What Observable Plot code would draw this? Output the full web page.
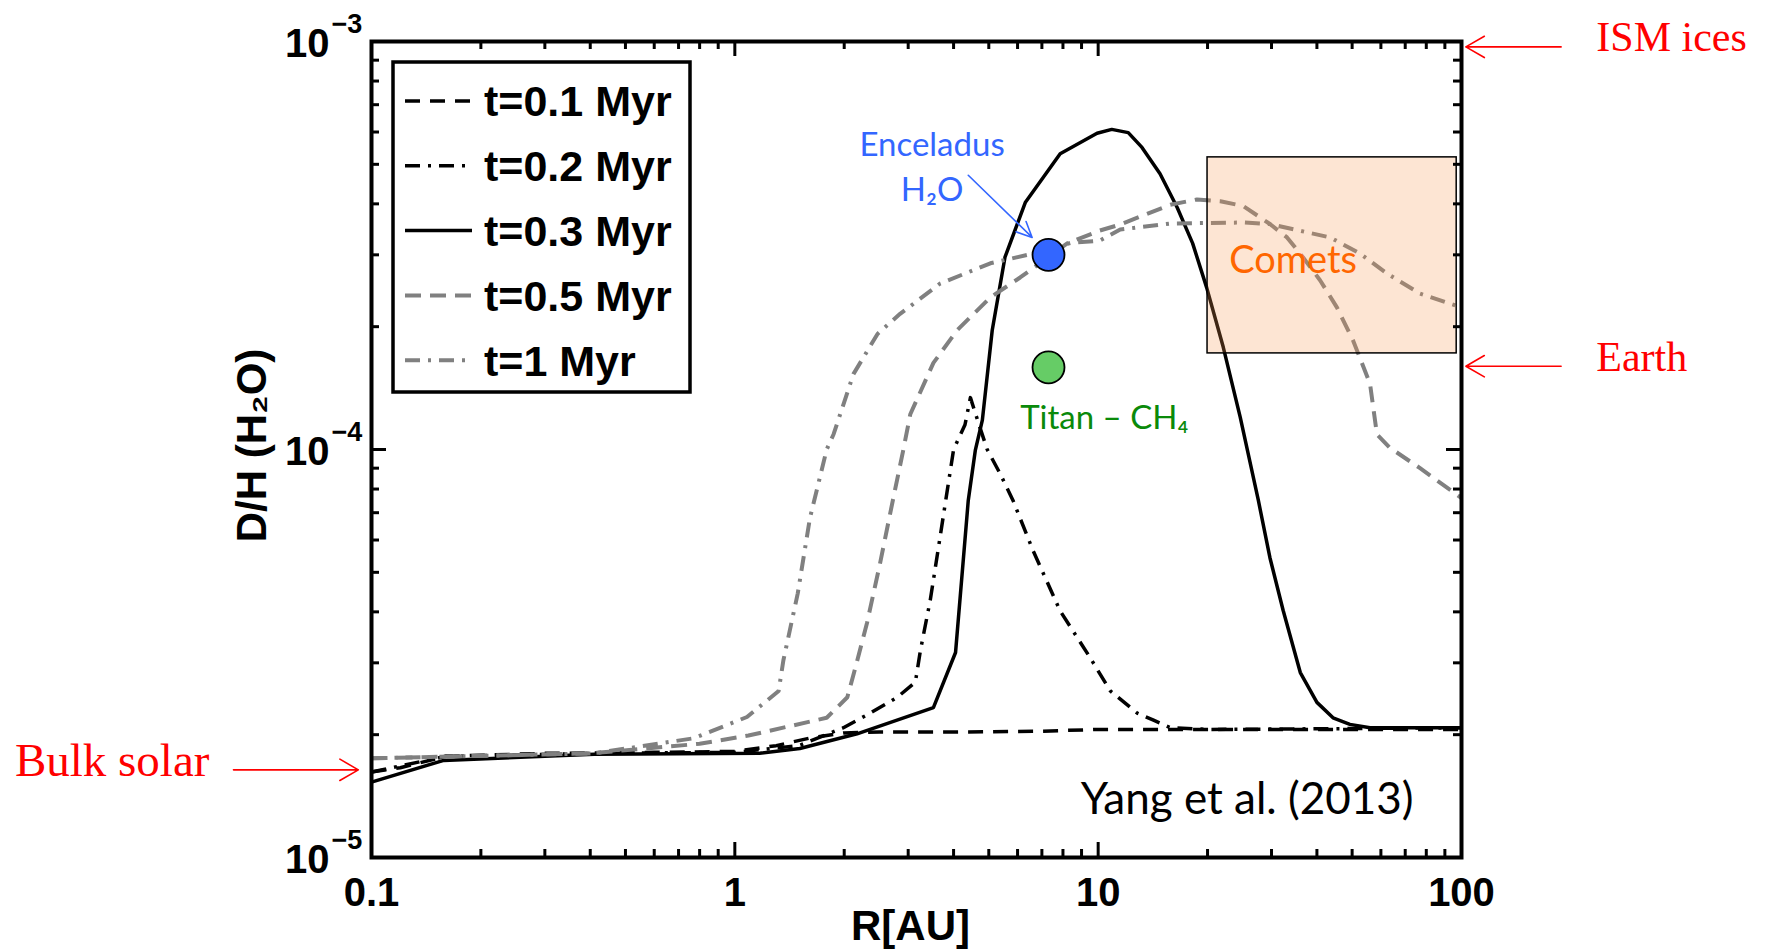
<!DOCTYPE html>
<html><head><meta charset="utf-8">
<script src="https://cdn.jsdelivr.net/npm/d3@7"></script>
<script src="https://cdn.jsdelivr.net/npm/@observablehq/plot@0.6"></script>
<style>
body{margin:0;background:#fff}
#chart{position:relative;width:1765px;height:950px}
</style>
</head><body><div id="chart"></div>
<script>
// ---- data ----
const r_t01 = [0.1, 0.12, 0.16, 0.3, 0.6, 1.0, 1.3, 1.6, 2.0, 2.5, 4, 7, 10, 20, 50, 100];
const dh_t01 = [1.62e-5, 1.66e-5, 1.77e-5, 1.80e-5, 1.81e-5, 1.82e-5, 1.88e-5, 1.96e-5, 2.02e-5, 2.03e-5, 2.03e-5, 2.04e-5, 2.06e-5, 2.06e-5, 2.06e-5, 2.06e-5];

const r_t02 = [0.1, 0.16, 0.4, 1.0, 1.5, 1.99, 2.36, 2.8, 3.14, 3.24, 3.45, 3.67, 3.87, 4.0, 4.3, 4.45, 4.7, 4.95, 5.37, 5.83, 6.62, 7.86, 9.5, 10.8, 12.8, 14.2, 15.8, 20, 50, 100];
const dh_t02 = [1.62e-5, 1.77e-5, 1.80e-5, 1.81e-5, 1.88e-5, 2.08e-5, 2.26e-5, 2.47e-5, 2.69e-5, 3.21e-5, 4.27e-5, 6.08e-5, 8.26e-5, 1.0e-4, 1.15e-4, 1.34e-4, 1.15e-4, 1.0e-4, 8.73e-5, 7.5e-5, 5.65e-5, 4.02e-5, 3.09e-5, 2.56e-5, 2.26e-5, 2.17e-5, 2.08e-5, 2.06e-5, 2.07e-5, 2.08e-5];

const r_t03 = [0.1, 0.158, 0.41, 1.17, 1.51, 2.17, 3.52, 4.05, 4.39, 4.59, 4.80, 5.11, 5.54, 6.30, 7.86, 9.93, 10.9, 12.1, 13.2, 14.8, 16.5, 18.2, 19.9, 22.1, 24.6, 27.6, 29.7, 32.3, 36.0, 40.0, 44.3, 49.3, 56.0, 100];
const dh_t03 = [1.53e-5, 1.73e-5, 1.79e-5, 1.80e-5, 1.85e-5, 2.01e-5, 2.33e-5, 3.18e-5, 7.5e-5, 9.95e-5, 1.18e-4, 1.96e-4, 2.96e-4, 4.03e-4, 5.31e-4, 5.96e-4, 6.09e-4, 5.98e-4, 5.50e-4, 4.74e-4, 3.92e-4, 3.20e-4, 2.49e-4, 1.78e-4, 1.20e-4, 7.5e-5, 5.43e-5, 4.03e-5, 2.84e-5, 2.40e-5, 2.20e-5, 2.12e-5, 2.08e-5, 2.08e-5];

const r_t05 = [0.1, 0.4, 0.8, 1.09, 1.79, 2.04, 2.16, 2.31, 2.51, 2.73, 2.91, 3.04, 3.52, 4.09, 5.05, 6.10, 8.22, 10.1, 11.5, 15.8, 18.7, 21.7, 25.1, 29.7, 33.1, 36.6, 40.8, 45.4, 50.3, 56.0, 58.5, 63.5, 76.9, 100];
const dh_t05 = [1.75e-5, 1.80e-5, 1.90e-5, 1.99e-5, 2.20e-5, 2.47e-5, 2.98e-5, 3.75e-5, 5.26e-5, 7.6e-5, 1.0e-4, 1.22e-4, 1.63e-4, 1.96e-4, 2.36e-4, 2.64e-4, 3.20e-4, 3.44e-4, 3.56e-4, 3.98e-4, 4.10e-4, 4.06e-4, 3.95e-4, 3.57e-4, 3.31e-4, 2.96e-4, 2.60e-4, 2.23e-4, 1.85e-4, 1.45e-4, 1.09e-4, 1.01e-4, 9.0e-5, 7.6e-5];

const r_t1 = [0.1, 0.41, 0.77, 1.08, 1.32, 1.36, 1.49, 1.61, 1.79, 1.87, 2.12, 2.47, 2.85, 3.67, 5.05, 6.62, 8.4, 10.1, 11.5, 15.8, 25.1, 29.7, 43.5, 52.6, 62.4, 76.9, 100];
const dh_t1 = [1.75e-5, 1.80e-5, 1.96e-5, 2.21e-5, 2.56e-5, 3.04e-5, 4.44e-5, 6.8e-5, 1.0e-4, 1.09e-4, 1.53e-4, 1.92e-4, 2.15e-4, 2.55e-4, 2.86e-4, 3.02e-4, 3.21e-4, 3.25e-4, 3.46e-4, 3.58e-4, 3.6e-4, 3.57e-4, 3.31e-4, 3.02e-4, 2.70e-4, 2.41e-4, 2.23e-4];

const seriesLabels = ["t=0.1 Myr", "t=0.2 Myr", "t=0.3 Myr", "t=0.5 Myr", "t=1 Myr"];

const xMajor = [0.1, 1, 10, 100];
const xTickLabels = ["0.1", "1", "10", "100"];
const yMajor = [1e-5, 1e-4, 1e-3];
const yTickExponents = ["\u22125", "\u22124", "\u22123"];

const moonNames = ["Enceladus", "Titan"];
const moonR = [7.3, 7.3];
const moonDH = [3.0e-4, 1.59e-4];

const cometR = [20, 97];
const cometDH = [1.72e-4, 5.2e-4];
const cometLabelPos = [34.4, 2.9e-4];

const refNames = ["ISM ices", "Earth", "Bulk solar"];
const refDH = [9.7e-4, 1.6e-4, 1.64e-5];
const refArrowFromR = [188, 188, 0.0417];
const refArrowToR = [102.8, 102.8, 0.092];
const refTextR = [235, 235, 0.0358];

const enceladusArrow = {r1: 4.39, dh1: 4.70e-4, r2: 6.58, dh2: 3.31e-4};
const enceladusLabel = {r: 3.49, dh1: 5.56e-4, dh2: 4.31e-4};
const titanLabel = {r: 6.10, dh: 1.19e-4};

// ---- styles ----
const styles = [
  {stroke: "#000", width: 3.5, dash: "15,10"},
  {stroke: "#000", width: 3.5, dash: "15,8,3,8"},
  {stroke: "#000", width: 3.5, dash: null},
  {stroke: "#808080", width: 4, dash: "16,9"},
  {stroke: "#808080", width: 4, dash: "15,8,3,8"}
];
const seriesR = [r_t01, r_t02, r_t03, r_t05, r_t1];
const seriesDH = [dh_t01, dh_t02, dh_t03, dh_t05, dh_t1];

const W = 1765, H = 950, mL = 371, mR = 304, mT = 41, mB = 93;
const fw = W - mL - mR, fh = H - mT - mB;

const minorX = [];
for (const d of [0.1, 1, 10]) for (let k = 2; k <= 9; k++) minorX.push(d * k);
const minorY = [];
for (const d of [1e-5, 1e-4]) for (let k = 2; k <= 9; k++) minorY.push(d * k);

const lineMarks = seriesR.map((rs, i) => Plot.line(rs.map((r, j) => ({r, dh: seriesDH[i][j]})), {
  x: "r", y: "dh", stroke: styles[i].stroke, strokeWidth: styles[i].width,
  strokeDasharray: styles[i].dash ?? undefined, strokeLinejoin: "round", strokeLinecap: "butt"
}));

const moons = moonNames.map((n, i) => ({name: n, r: moonR[i], dh: moonDH[i]}));
const refs = refNames.map((n, i) => ({name: n, dh: refDH[i], r1: refArrowFromR[i], r2: refArrowToR[i], rt: refTextR[i]}));
const refsRight = refs.filter(d => d.name !== "Bulk solar");
const refsLeft = refs.filter(d => d.name === "Bulk solar");

const sansCal = "Lato, 'Open Sans', sans-serif";
const serif = "'Liberation Serif', 'Times New Roman', serif";

const chart = Plot.plot({
  width: W, height: H,
  marginLeft: mL, marginRight: mR, marginTop: mT, marginBottom: mB,
  x: {type: "log", domain: [0.1, 100], axis: null},
  y: {type: "log", domain: [1e-5, 1e-3], axis: null},
  style: {fontFamily: "'Liberation Sans', Arial, sans-serif", background: "white", overflow: "visible"},
  marks: [
    ...lineMarks,
    // comets box
    Plot.rect([{x1: cometR[0], x2: cometR[1], y1: cometDH[0], y2: cometDH[1]}], {
      x1: "x1", x2: "x2", y1: "y1", y2: "y2", fill: "#f7974f", fillOpacity: 0.25,
      stroke: "#000", strokeWidth: 1.5
    }),
    Plot.text([cometLabelPos], {x: d => d[0], y: d => d[1], text: () => "Comets",
      fill: "#ff6600", fontSize: 38, fontFamily: sansCal, textAnchor: "middle", lineAnchor: "middle"}),
    // moons
    Plot.dot(moons, {x: "r", y: "dh", r: 16, fill: d => d.name === "Enceladus" ? "#3366ff" : "#66cc66",
      stroke: "#000", strokeWidth: 1.8}),
    Plot.arrow([enceladusArrow], {x1: "r1", y1: "dh1", x2: "r2", y2: "dh2", stroke: "#3366ff",
      strokeWidth: 1.6, headLength: 16, headAngle: 50}),
    Plot.text([enceladusLabel], {x: "r", y: "dh1", text: () => "Enceladus", fill: "#3366ff",
      fontSize: 33, fontFamily: sansCal, textAnchor: "middle", lineAnchor: "middle"}),
    Plot.text([enceladusLabel], {x: "r", y: "dh2", text: () => "H\u2082O", fill: "#3366ff",
      fontSize: 33, fontFamily: sansCal, textAnchor: "middle", lineAnchor: "middle"}),
    Plot.text([titanLabel], {x: "r", y: "dh", text: () => "Titan \u2013 CH\u2084", fill: "#0a8a0a",
      fontSize: 33, fontFamily: sansCal, textAnchor: "start", lineAnchor: "middle"}),
    // reference
    Plot.text(["Yang et al. (2013)"], {frameAnchor: "bottom-right", dx: -48, dy: -58, text: d => d,
      fill: "#000", fontSize: 44, fontFamily: sansCal, textAnchor: "end", lineAnchor: "middle"}),
    // inward ticks
    Plot.tickX(xMajor, {x: d => d, insetTop: fh - 15, stroke: "#000", strokeWidth: 3}),
    Plot.tickX(xMajor, {x: d => d, insetBottom: fh - 15, stroke: "#000", strokeWidth: 3}),
    Plot.tickX(minorX, {x: d => d, insetTop: fh - 8, stroke: "#000", strokeWidth: 3}),
    Plot.tickX(minorX, {x: d => d, insetBottom: fh - 8, stroke: "#000", strokeWidth: 3}),
    Plot.tickY(yMajor, {y: d => d, insetRight: fw - 15, stroke: "#000", strokeWidth: 3}),
    Plot.tickY(yMajor, {y: d => d, insetLeft: fw - 15, stroke: "#000", strokeWidth: 3}),
    Plot.tickY(minorY, {y: d => d, insetRight: fw - 8, stroke: "#000", strokeWidth: 3}),
    Plot.tickY(minorY, {y: d => d, insetLeft: fw - 8, stroke: "#000", strokeWidth: 3}),
    Plot.frame({stroke: "#000", strokeWidth: 4}),
    // tick labels
    Plot.text(xMajor, {x: d => d, frameAnchor: "bottom", dy: 36, text: (d, i) => xTickLabels[i],
      fontSize: 40, fontWeight: "bold", textAnchor: "middle", lineAnchor: "middle"}),
    Plot.text(yMajor, {y: d => d, frameAnchor: "left", dx: -42, dy: 3, text: () => "10",
      fontSize: 40, fontWeight: "bold", textAnchor: "end", lineAnchor: "middle"}),
    Plot.text(yMajor, {y: d => d, frameAnchor: "left", dx: -40, dy: -17, text: (d, i) => yTickExponents[i],
      fontSize: 27, fontWeight: "bold", textAnchor: "start", lineAnchor: "middle"}),
    // axis titles
    Plot.text(["R[AU]"], {frameAnchor: "bottom", dx: -6, dy: 69, text: d => d, fontSize: 42,
      fontWeight: "bold", textAnchor: "middle", lineAnchor: "middle"}),
    Plot.text(["D/H (H\u2082O)"], {frameAnchor: "left", dx: -119, dy: -4, rotate: -90, text: d => d,
      fontSize: 42, fontWeight: "bold", textAnchor: "middle", lineAnchor: "middle"}),
    // red reference arrows + labels
    Plot.arrow(refs, {x1: "r1", x2: "r2", y1: "dh", y2: "dh", stroke: "#ff0000", strokeWidth: 1.6,
      headLength: 20, headAngle: 60}),
    Plot.text(refsRight, {x: "rt", y: "dh", dy: -9, text: "name", fill: "#ff0000", fontSize: 42,
      fontFamily: serif, textAnchor: "start", lineAnchor: "middle"}),
    Plot.text(refsLeft, {x: "rt", y: "dh", dy: -9, text: "name", fill: "#ff0000", fontSize: 47,
      fontFamily: serif, textAnchor: "end", lineAnchor: "middle"})
  ]
});

document.getElementById("chart").appendChild(chart);

// ---- legend (inside the axes, top-left) ----
const svg = d3.select(chart);
const lg = svg.append("g").attr("transform", "translate(393,62)");
lg.append("rect").attr("width", 297).attr("height", 330).attr("fill", "white")
  .attr("stroke", "#000").attr("stroke-width", 3.5);
seriesLabels.forEach((lab, i) => {
  const y = 39 + i * 64.8;
  lg.append("line").attr("x1", 12).attr("x2", 79).attr("y1", y).attr("y2", y)
    .attr("stroke", styles[i].stroke).attr("stroke-width", styles[i].width)
    .attr("stroke-dasharray", styles[i].dash);
  lg.append("text").attr("x", 91).attr("y", y).attr("dy", "0.36em").text(lab)
    .attr("text-anchor", "start")
    .attr("font-family", "'Liberation Sans', Arial, sans-serif").attr("font-weight", "bold")
    .attr("font-size", 43).attr("fill", "#000");
});
</script></body></html>
